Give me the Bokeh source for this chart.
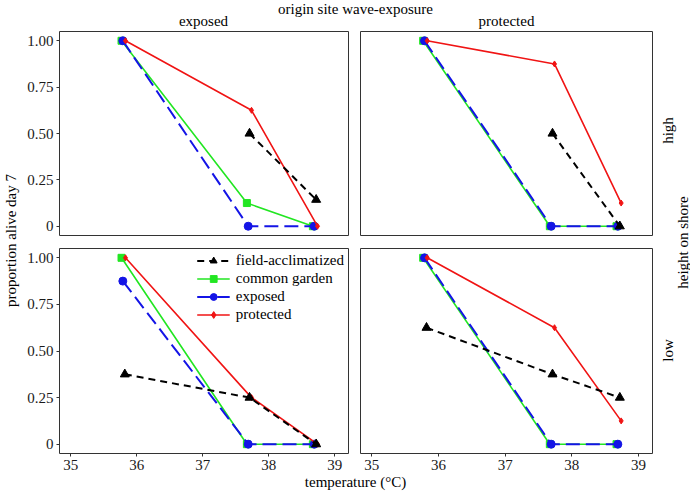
import math
from bokeh.plotting import figure
from bokeh.models import Label, Legend, LegendItem, Range1d, FixedTicker
from bokeh.layouts import column, row
from bokeh.embed import file_html
from bokeh.resources import INLINE

FONT = "'Liberation Serif', 'Times New Roman', serif"
FS = "15px"
NAN = float("nan")

# ---------------- data ----------------
site_labels = ["exposed", "protected"]          # columns (origin site wave-exposure)
height_labels = ["high", "low"]                 # rows (height on shore)
series_names = ["field-acclimatized", "common garden", "exposed", "protected"]

temp_field = [35.82, 37.71, 38.72]
temp_garden = [35.77, 37.67, 38.67]
temp_exposed = [35.79, 37.69, 38.69]
temp_protected = [35.83, 37.74, 38.74]

# proportion alive on day 7, per panel (site, height)
field_exposed_high = [NAN, 0.5, 0.143]
field_protected_high = [NAN, 0.5, 0.0]
field_exposed_low = [0.375, 0.25, 0.0]
field_protected_low = [0.625, 0.375, 0.25]

garden_exposed_high = [1.0, 0.125, 0.0]
garden_protected_high = [1.0, 0.0, 0.0]
garden_exposed_low = [1.0, 0.0, 0.0]
garden_protected_low = [1.0, 0.0, 0.0]

exposed_exposed_high = [1.0, 0.0, 0.0]
exposed_protected_high = [1.0, 0.0, 0.0]
exposed_exposed_low = [0.875, 0.0, 0.0]
exposed_protected_low = [1.0, 0.0, 0.0]

protected_exposed_high = [1.0, 0.625, 0.0]
protected_protected_high = [1.0, 0.875, 0.125]
protected_exposed_low = [1.0, 0.25, 0.0]
protected_protected_low = [1.0, 0.625, 0.125]

x_ticks = [35, 36, 37, 38, 39]
y_ticks = [0, 0.25, 0.5, 0.75, 1.0]
y_tick_labels = ["0", "0.25", "0.50", "0.75", "1.00"]

panel_data = {
    ("exposed", "high"): [field_exposed_high, garden_exposed_high, exposed_exposed_high, protected_exposed_high],
    ("protected", "high"): [field_protected_high, garden_protected_high, exposed_protected_high, protected_protected_high],
    ("exposed", "low"): [field_exposed_low, garden_exposed_low, exposed_exposed_low, protected_exposed_low],
    ("protected", "low"): [field_protected_low, garden_protected_low, exposed_protected_low, protected_protected_low],
}
temps = [temp_field, temp_garden, temp_exposed, temp_protected]

styles = [
    dict(color="black", width=2, dash="7 5", marker="triangle", size=9),
    dict(color="#22e622", width=1.6, dash="solid", marker="square", size=7),
    dict(color="#1414e6", width=2, dash="14 6", marker="circle", size=8),
    dict(color="#f01414", width=1.6, dash="solid", marker="diamond", size=6),
]
draw_order = [1, 2, 3, 0]

# ---------------- layout sizes (page pixels) ----------------
TOTAL_W = 690
HEAD_H = 30
ROW1_H = 211
ROW2_H = 233
FOOT_H = 491 - HEAD_H - ROW1_H - ROW2_H
YLAB_W = 24
LEFT_W = 330
RIGHT_W = 300
RLAB_W = TOTAL_W - YLAB_W - LEFT_W - RIGHT_W


def blank(w, h):
    f = figure(width=w, height=h, output_backend="svg", toolbar_location=None,
               x_range=Range1d(0, w), y_range=Range1d(h, 0),
               x_axis_type=None, y_axis_type=None,
               min_border=0, min_border_left=0, min_border_right=0,
               min_border_top=0, min_border_bottom=0)
    f.outline_line_color = None
    f.grid.visible = False
    f.background_fill_color = "white"
    f.border_fill_color = "white"
    return f


def txt(f, x, y, s, angle=0.0, align="center", baseline="middle"):
    f.add_layout(Label(x=x, y=y, text=s, angle=angle, text_font=FONT,
                       text_font_size=FS, text_color="black",
                       text_align=align, text_baseline=baseline))


def panel(site, height):
    left = site == "exposed"
    bottom = height == "low"
    w = LEFT_W if left else RIGHT_W
    h = ROW1_H if not bottom else ROW2_H
    p = figure(width=w, height=h, output_backend="svg", toolbar_location=None,
               x_range=Range1d(34.83, 39.21), y_range=Range1d(-0.05, 1.05),
               min_border_left=34 if left else 6,
               min_border_right=6 if left else 2,
               min_border_top=1 if not bottom else 7,
               min_border_bottom=6 if not bottom else 21)
    p.grid.visible = False
    p.outline_line_color = "#333333"
    p.outline_line_width = 1
    p.background_fill_color = "white"
    p.border_fill_color = "white"

    p.xaxis.ticker = FixedTicker(ticks=x_ticks)
    p.yaxis.ticker = FixedTicker(ticks=y_ticks)
    p.yaxis.major_label_overrides = {t: l for t, l in zip(y_ticks, y_tick_labels)}
    for ax in (p.xaxis[0], p.yaxis[0]):
        ax.axis_line_color = None
        ax.major_tick_line_color = "#333333"
        ax.major_tick_in = 0
        ax.major_tick_out = 3
        ax.minor_tick_line_color = None
        ax.major_label_text_font = FONT
        ax.major_label_text_font_size = FS
        ax.major_label_text_color = "#1a1a1a"
        ax.major_label_standoff = 3
    p.xaxis.visible = bottom
    p.yaxis.visible = left

    vals = panel_data[(site, height)]
    renderers = {}
    for i in draw_order:
        st = styles[i]
        ln = p.line(temps[i], vals[i], line_color=st["color"], line_width=st["width"],
                    line_dash=st["dash"])
        sc = p.scatter(temps[i], vals[i], marker=st["marker"], size=st["size"],
                       fill_color=st["color"], line_color=st["color"])
        renderers[i] = [ln, sc]

    if left and bottom:
        items = [LegendItem(label=series_names[i], renderers=renderers[i]) for i in range(4)]
        lg = Legend(items=items, location="top_right", border_line_color=None,
                    background_fill_alpha=0, label_text_font=FONT,
                    label_text_font_size=FS, label_text_color="black",
                    glyph_width=33, glyph_height=17, label_height=17,
                    label_standoff=6, spacing=1, padding=5, margin=4)
        p.add_layout(lg)
    return p


tl = panel("exposed", "high")
tr = panel("protected", "high")
bl = panel("exposed", "low")
br = panel("protected", "low")

# header: overall facet title and column strip labels
head = blank(TOTAL_W, HEAD_H)
txt(head, 355, 8, "origin site wave-exposure")
txt(head, 203, 20, site_labels[0])
txt(head, 506, 20, site_labels[1])

# left: y axis title
ylab = blank(YLAB_W, ROW1_H + ROW2_H)
txt(ylab, 10, 210, "proportion alive day 7", angle=math.pi / 2)

# right: row strip labels and row title
rlab = blank(RLAB_W, ROW1_H + ROW2_H)
txt(rlab, 13, 100, height_labels[0], angle=math.pi / 2)
txt(rlab, 13, 320, height_labels[1], angle=math.pi / 2)
txt(rlab, 28, 212, "height on shore", angle=math.pi / 2)

# footer: x axis title
foot = blank(TOTAL_W, FOOT_H)
txt(foot, 355, FOOT_H - 10, "temperature (°C)")

grid = column(row(tl, tr, spacing=0), row(bl, br, spacing=0), spacing=0)
layout = column(head, row(ylab, grid, rlab, spacing=0), foot, spacing=0)

open("out.html", "w").write(file_html(layout, INLINE))
